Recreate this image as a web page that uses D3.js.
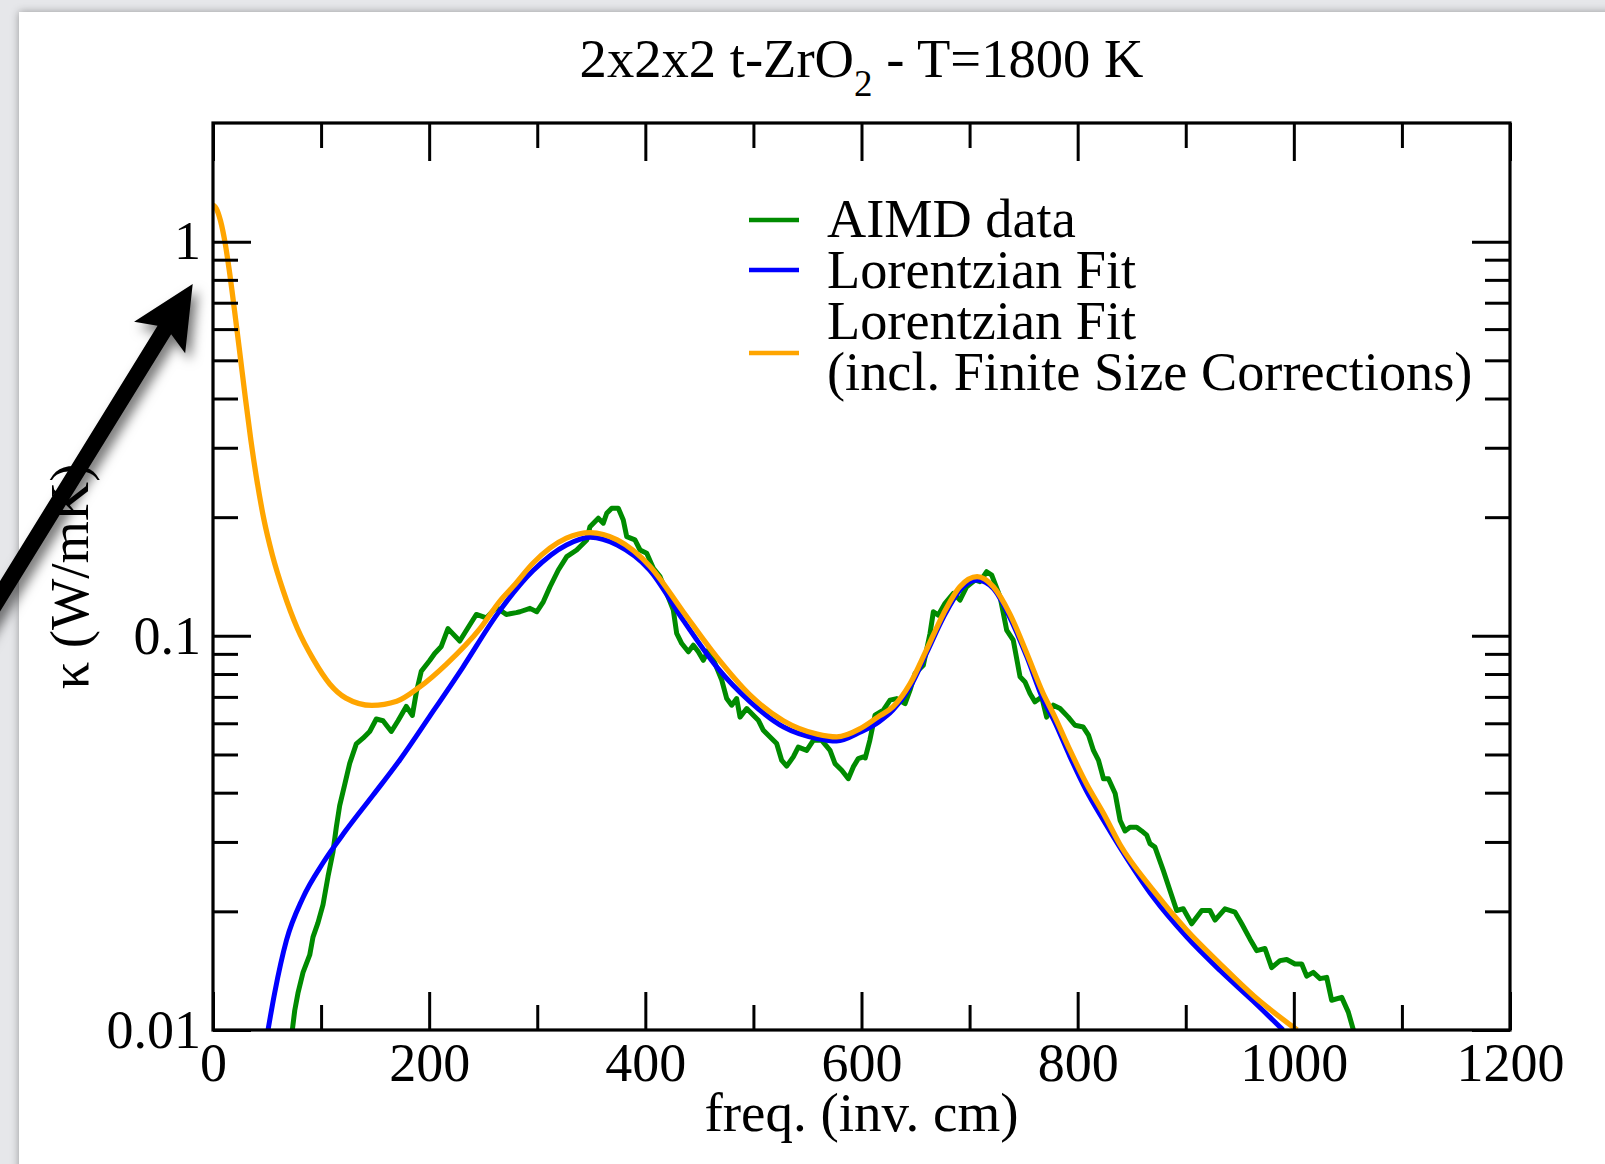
<!DOCTYPE html>
<html>
<head>
<meta charset="utf-8">
<script src="https://cdn.jsdelivr.net/npm/d3@7"></script>
<style>
  html, body { margin: 0; padding: 0; background: #e6e7ea; overflow: hidden; }
  svg { display: block; }
  text { font-family: "Liberation Serif", "Times New Roman", Times, serif; fill: #000; }
  .axis text { font-size: 54px; }
</style>
</head>
<body>
<svg id="chart" width="1605" height="1164"></svg>
<script>
// 2x2x2 t-ZrO2, T = 1800 K : thermal conductivity spectrum (log y)

// ---- data (freq in inv. cm, kappa in W/mK) ----
const aimdData = [
  [73.4,0.0100],[75.6,0.0112],[78.6,0.0124],[83.3,0.0140],[89.5,0.0155],[92.5,0.0172],
  [97.1,0.0187],[101.8,0.0208],[106.4,0.0245],[111,0.0283],[114.1,0.0327],[117.2,0.0371],
  [121.9,0.0420],[126.5,0.0475],[132.6,0.0532],[138.8,0.0550],[145,0.0572],[151.1,0.0615],
  [157.3,0.0609],[165,0.0572],[171.2,0.0609],[178.8,0.0662],[184.4,0.0628],[188.1,0.0718],
  [192.7,0.0813],[200.5,0.0866],[205.1,0.0902],[211.2,0.0940],[217.4,0.1043],[228.3,0.0970],
  [237.5,0.1065],[243.6,0.1133],[252.9,0.1110],[262.1,0.1181],[271.4,0.1133],[280.6,0.1145],
  [284,0.1151],[293.3,0.1174],[299.5,0.1151],[305.6,0.1220],[311.8,0.1332],[319.5,0.1469],
  [327.3,0.1588],[336.5,0.1651],[345.8,0.1751],[348.8,0.1892],[356.5,0.1988],[361.1,0.1931],
  [364.3,0.2046],[368.9,0.2107],[375,0.2107],[379.6,0.1968],[382.8,0.1785],[390.4,0.1751],
  [395.1,0.1651],[401.3,0.1620],[407.4,0.1484],[413.6,0.1413],[419.8,0.1282],[425.9,0.1162],
  [429,0.1014],[433.7,0.0956],[439.8,0.0911],[444.4,0.0947],[449,0.0911],[453.6,0.0867],
  [458.3,0.0920],[464.5,0.0851],[470.7,0.0772],[475.3,0.0693],[479.9,0.0667],[484.5,0.0693],
  [487.6,0.0622],[493.8,0.0654],[499.9,0.0629],[504.5,0.0611],[509.2,0.0576],[515.4,0.0554],
  [521.5,0.0533],[526.2,0.0483],[530.8,0.0467],[536.9,0.0493],[541.5,0.0522],[549.3,0.0512],
  [555.4,0.0543],[563.2,0.0543],[570.9,0.0512],[575.5,0.0474],[581.7,0.0456],[587.8,0.0434],
  [592.4,0.0465],[597,0.0488],[601.7,0.0493],[603.5,0.0490],[607.7,0.0543],[612.5,0.0629],
  [620.2,0.0648],[626.4,0.0687],[632.6,0.0693],[640.3,0.0673],[644.9,0.0728],[649.5,0.0802],
  [657.2,0.0842],[663.4,0.1014],[666.5,0.1151],[671.1,0.1129],[677.3,0.1209],[685,0.1282],
  [691.1,0.1232],[697.3,0.1332],[705,0.1386],[709.6,0.1372],[715.8,0.1454],[720.5,0.1426],
  [728.2,0.1256],[734.3,0.1034],[740.4,0.0975],[746.7,0.0787],[751.3,0.0764],[755.9,0.0714],
  [760.5,0.0680],[766.7,0.0700],[771.3,0.0622],[777.5,0.0667],[783.7,0.0654],[791.3,0.0622],
  [797.5,0.0593],[805.2,0.0587],[810,0.0560],[814.6,0.0512],[819.3,0.0483],[823.9,0.0434],
  [828.5,0.0434],[834.7,0.0398],[839.3,0.0340],[843.8,0.0320],[848.4,0.0327],[854.6,0.0327],
  [859.2,0.0320],[863.9,0.0312],[866.9,0.0297],[871.5,0.0291],[879.2,0.0254],[885.4,0.0226],
  [891.6,0.0201],[897.7,0.0203],[905.5,0.0186],[914.8,0.0201],[922.4,0.0201],[927.1,0.0190],
  [936.3,0.0203],[945.6,0.0199],[951.8,0.0186],[959.5,0.0170],[965.6,0.0159],[973.3,0.0161],
  [979.5,0.0144],[987.2,0.0150],[993.4,0.0151],[1001.1,0.0147],[1007.3,0.0147],[1011.9,0.0137],
  [1018,0.0140],[1024.2,0.0135],[1030.4,0.0136],[1035,0.0119],[1044.3,0.0121],[1050.4,0.0111],
  [1055.1,0.0100]
];

const lorentzData = [
  [50.9,0.0100],[57,0.0124],[68,0.0169],[83,0.0216],[102,0.0266],[123,0.0321],[148,0.0394],
  [173,0.0485],[200,0.0622],[231,0.0831],[263,0.1135],[296,0.1462],[327,0.1700],[349,0.1779],
  [374,0.1700],[404,0.1469],[435,0.1096],[466,0.0834],[497,0.0680],[528,0.0587],[559,0.0549],
  [577,0.0541],[599,0.0570],[616,0.0605],[629,0.0648],[645,0.0742],[660,0.0902],[676,0.1117],
  [691,0.1306],[707,0.1386],[722,0.1319],[737,0.1117],[753,0.0884],[768,0.0690],[778,0.0611],
  [793,0.0493],[808,0.0405],[824,0.0340],[839,0.0291],[870,0.0217],[901,0.0172],[932,0.01413],
  [962,0.01186],[990,0.0100]
];

const lorentzFscData = [
  [0,1.24],[3,1.214],[7,1.128],[11,1.0],[15,0.848],[20,0.666],[25,0.517],[30,0.40],[35,0.314],
  [40,0.254],[47,0.198],[55,0.160],[65,0.130],[78,0.1045],[93,0.087],[108,0.0755],[123,0.0695],
  [147,0.0666],[170,0.0682],[191,0.0741],[216,0.0848],[247,0.1043],[266,0.123],[278,0.1337],
  [296,0.1528],[327,0.1769],[349,0.1827],[374,0.1751],[404,0.1504],[435,0.1151],[466,0.0884],
  [497,0.0707],[528,0.0608],[559,0.0563],[577,0.0554],[599,0.0582],[615,0.0622],[629,0.0660],
  [645,0.0757],[660,0.0920],[676,0.1140],[691,0.1332],[707,0.1413],[722,0.1332],[737,0.1140],
  [753,0.0902],[768,0.0715],[778,0.0630],[793,0.0512],[808,0.0422],[824,0.0354],[839,0.0296],
  [870,0.0226],[901,0.0179],[932,0.0147],[963,0.0122],[1003,0.0100]
];

const X_TICKS = [0, 200, 400, 600, 800, 1000, 1200];
const X_TICK_LABELS = ["0", "200", "400", "600", "800", "1000", "1200"];
const X_MINOR = [100, 300, 500, 700, 900, 1100];
const Y_TICKS = [0.01, 0.1, 1];
const Y_TICK_LABELS = ["0.01", "0.1", "1"];
const Y_MINOR = [0.02,0.03,0.04,0.05,0.06,0.07,0.08,0.09,0.2,0.3,0.4,0.5,0.6,0.7,0.8,0.9];

const LEGEND_LABELS = [["AIMD data"], ["Lorentzian Fit"], ["Lorentzian Fit", "(incl. Finite Size Corrections)"]];
const COLORS = ["#008b00", "#0000ff", "#ffa500"];

// ---- layout ----
const plot = { left: 213, right: 1510, top: 123, bottom: 1030 };
const majorLen = 38, minorLen = 25;

const svg = d3.select("#chart");
const defs = svg.append("defs");

// page panel with soft shadow (screenshot look)
const pageShadow = defs.append("filter").attr("id", "pageShadow")
  .attr("x", "-5%").attr("y", "-5%").attr("width", "110%").attr("height", "110%");
pageShadow.append("feDropShadow").attr("dx", 0).attr("dy", 0)
  .attr("stdDeviation", 4).attr("flood-color", "#000").attr("flood-opacity", 0.35);

svg.append("rect").attr("width", 1605).attr("height", 1164).attr("fill", "#e6e7ea");
svg.append("rect").attr("x", 19).attr("y", 12).attr("width", 1620).attr("height", 1180)
  .attr("fill", "#fff").attr("filter", "url(#pageShadow)");

const x = d3.scaleLinear().domain([0, 1200]).range([plot.left, plot.right]);
const y = d3.scaleLog().domain([0.01, 2]).range([plot.bottom, plot.top]);

// ---- curves ----
defs.append("clipPath").attr("id", "plotClip").append("rect")
  .attr("x", plot.left).attr("y", plot.top)
  .attr("width", plot.right - plot.left).attr("height", plot.bottom - plot.top);

const rough = d3.line().x(d => x(d[0])).y(d => y(d[1]));
const smooth = d3.line().x(d => x(d[0])).y(d => y(d[1])).curve(d3.curveMonotoneX);

const curves = svg.append("g").attr("clip-path", "url(#plotClip)");
curves.append("path").attr("d", rough(aimdData))
  .attr("fill", "none").attr("stroke", COLORS[0]).attr("stroke-width", 5).attr("stroke-linejoin", "round");
curves.append("path").attr("d", smooth(lorentzData))
  .attr("fill", "none").attr("stroke", COLORS[1]).attr("stroke-width", 5);
curves.append("path").attr("d", smooth(lorentzFscData))
  .attr("fill", "none").attr("stroke", COLORS[2]).attr("stroke-width", 5.3);

// ---- axes ----
function styleAxis(g) {
  g.select(".domain").remove();
  g.selectAll(".tick line").attr("stroke", "#000").attr("stroke-width", 3);
}

svg.append("g").attr("class", "axis").attr("transform", `translate(0,${plot.bottom})`)
  .call(d3.axisBottom(x).tickValues(X_TICKS).tickFormat((d, i) => X_TICK_LABELS[i])
    .tickSizeInner(-majorLen).tickSizeOuter(0).tickPadding(13))
  .call(styleAxis);
svg.append("g").attr("class", "axis").attr("transform", `translate(0,${plot.bottom})`)
  .call(d3.axisBottom(x).tickValues(X_MINOR).tickFormat("").tickSizeInner(-minorLen).tickSizeOuter(0))
  .call(styleAxis);
svg.append("g").attr("class", "axis").attr("transform", `translate(0,${plot.top})`)
  .call(d3.axisTop(x).tickValues(X_TICKS).tickFormat("").tickSizeInner(-majorLen).tickSizeOuter(0))
  .call(styleAxis);
svg.append("g").attr("class", "axis").attr("transform", `translate(0,${plot.top})`)
  .call(d3.axisTop(x).tickValues(X_MINOR).tickFormat("").tickSizeInner(-minorLen).tickSizeOuter(0))
  .call(styleAxis);

svg.append("g").attr("class", "axis").attr("transform", `translate(${plot.left},0)`)
  .call(d3.axisLeft(y).tickValues(Y_TICKS).tickFormat((d, i) => Y_TICK_LABELS[i])
    .tickSizeInner(-majorLen).tickSizeOuter(0).tickPadding(12))
  .call(styleAxis);
svg.append("g").attr("class", "axis").attr("transform", `translate(${plot.left},0)`)
  .call(d3.axisLeft(y).tickValues(Y_MINOR).tickFormat("").tickSizeInner(-minorLen).tickSizeOuter(0))
  .call(styleAxis);
svg.append("g").attr("class", "axis").attr("transform", `translate(${plot.right},0)`)
  .call(d3.axisRight(y).tickValues(Y_TICKS).tickFormat("").tickSizeInner(-majorLen).tickSizeOuter(0))
  .call(styleAxis);
svg.append("g").attr("class", "axis").attr("transform", `translate(${plot.right},0)`)
  .call(d3.axisRight(y).tickValues(Y_MINOR).tickFormat("").tickSizeInner(-minorLen).tickSizeOuter(0))
  .call(styleAxis);

// frame
svg.append("rect")
  .attr("x", plot.left).attr("y", plot.top)
  .attr("width", plot.right - plot.left).attr("height", plot.bottom - plot.top)
  .attr("fill", "none").attr("stroke", "#000").attr("stroke-width", 3.2);

// ---- title / labels ----
const cx = (plot.left + plot.right) / 2;
const title = svg.append("text").attr("x", cx).attr("y", 77)
  .attr("text-anchor", "middle").style("font-size", "54.6px");
title.append("tspan").text("2x2x2 t-ZrO");
title.append("tspan").attr("dy", 19).style("font-size", "37px").text("2");
title.append("tspan").attr("dy", -19).text(" - T=1800 K");

svg.append("text").attr("x", cx).attr("y", 1131)
  .attr("text-anchor", "middle").style("font-size", "55px")
  .text("freq. (inv. cm)");

svg.append("text")
  .attr("transform", `translate(88,${(plot.top + plot.bottom) / 2}) rotate(-90)`)
  .attr("text-anchor", "middle").style("font-size", "54.5px")
  .text("\u03ba (W/mK)");

// ---- legend ----
const legend = svg.append("g");
const legendLineY = [220, 270, 353];
const legendTextY = [[237], [288], [339, 390]];
LEGEND_LABELS.forEach((lines, i) => {
  legend.append("line")
    .attr("x1", 749).attr("x2", 799)
    .attr("y1", legendLineY[i]).attr("y2", legendLineY[i])
    .attr("stroke", COLORS[i]).attr("stroke-width", 4.5);
  lines.forEach((t, j) => {
    legend.append("text").attr("x", 827).attr("y", legendTextY[i][j])
      .style("font-size", "54.3px").text(t);
  });
});

// ---- annotation arrow (pointing at the kappa(0) value) ----
const arrowShadow = defs.append("filter").attr("id", "arrowShadow")
  .attr("x", "-30%").attr("y", "-30%").attr("width", "160%").attr("height", "160%");
arrowShadow.append("feDropShadow").attr("dx", 5).attr("dy", 7)
  .attr("stdDeviation", 6).attr("flood-color", "#000").attr("flood-opacity", 0.55);

const tip = [192.7, 284];
const u = [0.525, -0.851];          // direction tail -> tip
const n = [0.851, 0.525];           // normal
const local = [[0, 0], [-63, 30], [-54, 8], [-440, 8], [-440, -8], [-54, -8], [-63, -30]];
const arrowPts = local.map(([a, b]) => [tip[0] + a * u[0] + b * n[0], tip[1] + a * u[1] + b * n[1]]);
svg.append("path")
  .attr("d", d3.line()(arrowPts) + "Z")
  .attr("fill", "#000")
  .attr("filter", "url(#arrowShadow)");
</script>
</body>
</html>
